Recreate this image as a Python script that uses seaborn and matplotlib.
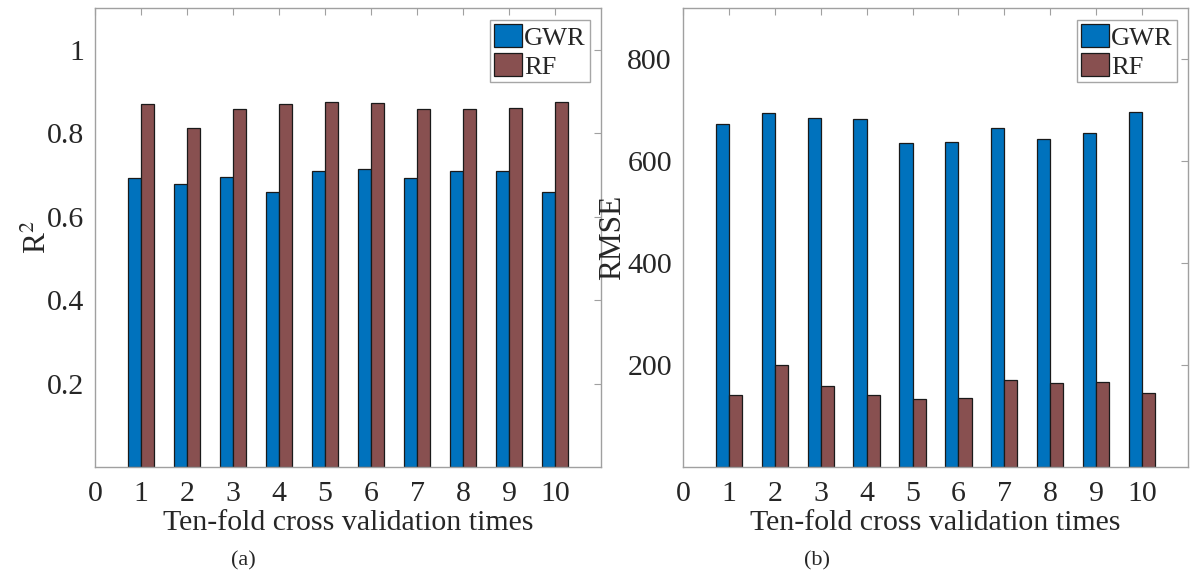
import numpy as np
import pandas as pd
import matplotlib
matplotlib.use("Agg")
import matplotlib.pyplot as plt
import seaborn as sns

# -----------------------------
# Data
# -----------------------------
folds = [1, 2, 3, 4, 5, 6, 7, 8, 9, 10]
models = ["GWR", "RF"]

r2_gwr = [0.692, 0.679, 0.694, 0.660, 0.710, 0.715, 0.692, 0.709, 0.710, 0.659]
r2_rf = [0.869, 0.812, 0.858, 0.871, 0.876, 0.873, 0.859, 0.859, 0.860, 0.874]

rmse_gwr = [672, 694, 684, 682, 636, 638, 664, 644, 656, 697]
rmse_rf = [142, 200, 159, 141, 133, 136, 170, 165, 167, 145]

colors = {"GWR": "#0072BD", "RF": "#885050"}

# -----------------------------
# Long format tables
# -----------------------------
df_r2 = pd.DataFrame({
    "fold": folds * 2,
    "value": r2_gwr + r2_rf,
    "model": ["GWR"] * len(folds) + ["RF"] * len(folds)
})

df_rmse = pd.DataFrame({
    "fold": folds * 2,
    "value": rmse_gwr + rmse_rf,
    "model": ["GWR"] * len(folds) + ["RF"] * len(folds)
})

# -----------------------------
# Style
# -----------------------------
sns.set_style("white")
plt.rcParams["font.family"] = ["Liberation Serif", "DejaVu Serif"]
plt.rcParams["mathtext.fontset"] = "stix"
plt.rcParams["text.color"] = "#262626"

spine_color = "#a0a0a0"
text_color = "#262626"
fs = 21.5

fig = plt.figure(figsize=(11.93, 5.78), dpi=100)
ax1 = fig.add_axes([0.0796, 0.192, 0.4242, 0.794])
ax2 = fig.add_axes([0.5725, 0.192, 0.4233, 0.794])


def draw_panel(ax, data, ylim, yticks, ytick_labels, ylabel, ypad):
    sns.barplot(
        data=data,
        x="fold",
        y="value",
        hue="model",
        hue_order=models,
        palette=colors,
        native_scale=True,
        width=0.572,
        edgecolor="#1a1a1a",
        linewidth=0.9,
        saturation=1,
        errorbar=None,
        ax=ax
    )
    ax.set_xlim(0, 11)
    ax.set_ylim(*ylim)
    ax.set_xticks(range(0, 11))
    ax.set_xticklabels([str(i) for i in range(0, 11)])
    ax.set_yticks(yticks)
    ax.set_yticklabels(ytick_labels)
    ax.tick_params(
        direction="in", length=5, width=0.8,
        top=True, right=True, colors=spine_color,
        labelcolor=text_color, labelsize=fs
    )
    ax.tick_params(axis="x", pad=10)
    ax.tick_params(axis="y", pad=8)
    for s in ax.spines.values():
        s.set_visible(True)
        s.set_color(spine_color)
        s.set_linewidth(1.0)
    ax.set_xlabel("Ten-fold cross validation times", fontsize=fs,
                  color=text_color, labelpad=2)
    ax.set_ylabel(ylabel, fontsize=fs + 1, color=text_color, labelpad=ypad)

    leg = ax.legend(
        loc="upper right",
        bbox_to_anchor=(0.978, 0.973),
        fontsize=19,
        frameon=True,
        fancybox=False,
        handlelength=1.05,
        handleheight=0.95,
        handletextpad=0.1,
        labelspacing=0.12,
        borderpad=0.15,
        borderaxespad=0
    )
    leg.get_frame().set_edgecolor("#909090")
    leg.get_frame().set_linewidth(1.0)
    for t in leg.get_texts():
        t.set_color(text_color)


draw_panel(ax1, df_r2, (0, 1.1), [0.2, 0.4, 0.6, 0.8, 1.0],
           ["0.2", "0.4", "0.6", "0.8", "1"], r"R$^2$", -5)
draw_panel(ax2, df_rmse, (0, 900), [200, 400, 600, 800],
           ["200", "400", "600", "800"], "RMSE", 0)

fig.text(243 / 1193, 1 - 561 / 578, "(a)", ha="center", va="center",
         fontsize=16, color=text_color)
fig.text(817 / 1193, 1 - 561 / 578, "(b)", ha="center", va="center",
         fontsize=16, color=text_color)

fig.savefig("out.png", dpi=100)
